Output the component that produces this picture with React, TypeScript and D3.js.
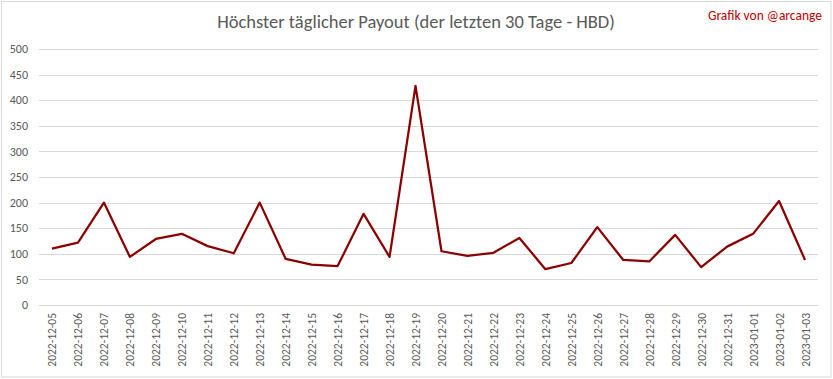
import React from "react";
import * as d3 from "d3";

const dates = [
  "2022-12-05","2022-12-06","2022-12-07","2022-12-08","2022-12-09","2022-12-10",
  "2022-12-11","2022-12-12","2022-12-13","2022-12-14","2022-12-15","2022-12-16",
  "2022-12-17","2022-12-18","2022-12-19","2022-12-20","2022-12-21","2022-12-22",
  "2022-12-23","2022-12-24","2022-12-25","2022-12-26","2022-12-27","2022-12-28",
  "2022-12-29","2022-12-30","2022-12-31","2023-01-01","2023-01-02","2023-01-03",
];
const payouts = [
  110, 122, 200, 94, 129, 139, 115, 101, 200, 90, 79, 76, 178, 94, 428,
  105, 96, 102, 131, 70, 82, 152, 88, 85, 137, 74, 114, 139, 203, 88,
];
const yTicks = [0, 50, 100, 150, 200, 250, 300, 350, 400, 450, 500];
const title = "Höchster täglicher Payout (der letzten 30 Tage - HBD)";
const credit = "Grafik von @arcange";

const W = 833, H = 379;
const left = 39, right = 818, top = 49, bottom = 305;

export default function App() {
  const x = d3.scaleBand<string>().domain(dates).range([left, right]);
  const y = d3.scaleLinear().domain([0, 500]).range([bottom, top]);
  const line = d3.line<number>()
    .x((_, i) => (x(dates[i]) as number) + x.bandwidth() / 2)
    .y((d) => y(d));
  const font = "Carlito, 'Liberation Sans', Arial, sans-serif";
  return (
    <svg width={W} height={H} style={{ position: "absolute", left: 0, top: 0, background: "#fff" }}>
      <rect x={1.5} y={1.5} width={829.5} height={375.5} fill="#fff" stroke="#d9d9d9" />
      <text x={416} y={28} textAnchor="middle" fontFamily={font} fontSize={18.5} fill="#595959">{title}</text>
      <text x={822} y={20} textAnchor="end" fontFamily={font} fontSize={13.5} fill="#c00000">{credit}</text>
      {yTicks.map((t) => (
        <g key={t}>
          <line x1={left} x2={right} y1={Math.round(y(t)) + 0.5} y2={Math.round(y(t)) + 0.5} stroke="#d9d9d9" strokeWidth={1} />
          <text x={28} y={y(t)} dy="0.35em" textAnchor="end" fontFamily={font} fontSize={12} fill="#595959">{t}</text>
        </g>
      ))}
      {dates.map((d) => {
        const cx = (x(d) as number) + x.bandwidth() / 2;
        return (
          <text key={d} transform={`translate(${cx + 4.5},${313}) rotate(-90)`} textAnchor="end"
            fontFamily={font} fontSize={11.5} fill="#595959">{d}</text>
        );
      })}
      <path d={line(payouts) || ""} fill="none" stroke="#8b0000" strokeWidth={2.25} strokeLinejoin="round" />
    </svg>
  );
}
